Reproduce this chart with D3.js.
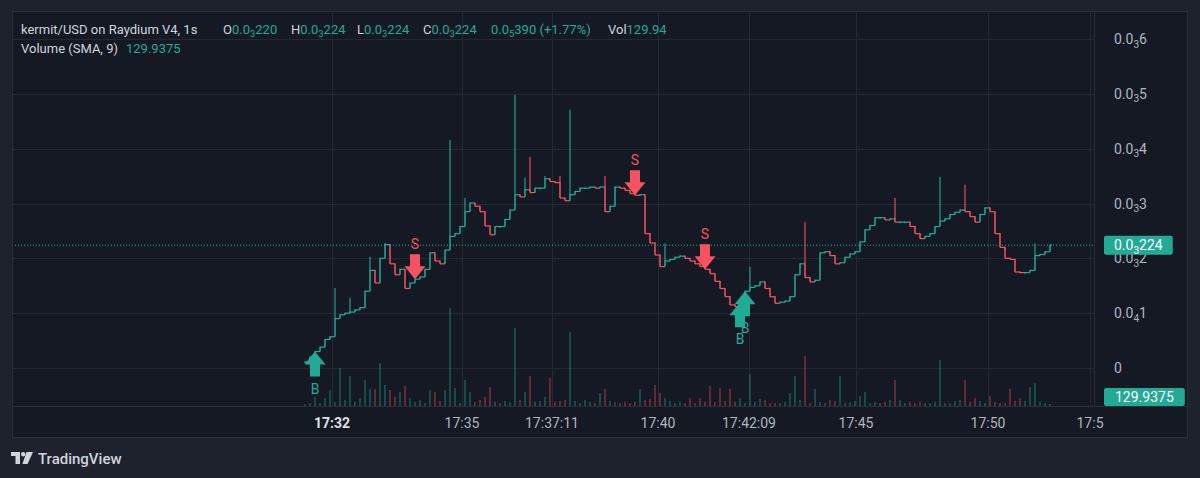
<!DOCTYPE html>
<html>
<head>
<meta charset="utf-8">
<script src="https://cdn.jsdelivr.net/npm/d3@7"></script>
<style>
  body { margin: 0; background: #1e222d; }
  text { font-family: Roboto, "Noto Sans", sans-serif; }
</style>
</head>
<body>
<script>
//settings
var settings = {
  width: 1200,
  height: 478,
  panelLeft: 12,
  panelTop: 11,
  panelRight: 1188,
  panelBottom: 438,
  axisX: 1094,
  timeY: 406,
  legendX: [223, 291, 357, 423, 491, 608],
  up: '#22ab94',
  down: '#f7525f',
  grid: '#242833',
  axisText: '#b2b5be',
  text: '#d1d4dc'
};

// close of each bar, in units of 0.0001 USD (1s bars, thinned out)
var closes = [
  0.11, 0.20, 0.30, 0.38, 0.52, 0.57, 0.90, 0.97, 1.00, 1.02,
  1.06, 1.10, 1.40, 1.78, 1.55, 2.00, 2.25, 1.90, 1.70, 1.80,
  1.45, 1.55, 1.62, 1.66, 1.80, 2.10, 1.95, 1.90, 2.15, 2.40,
  2.45, 2.58, 2.85, 3.01, 2.95, 2.85, 2.59, 2.43, 2.58, 2.58,
  2.71, 2.88, 3.16, 3.12, 3.25, 3.20, 3.28, 3.28, 3.45, 3.40,
  3.38, 3.10, 3.05, 3.16, 3.22, 3.28, 3.28, 3.30, 3.28, 3.30,
  2.85, 2.95, 3.30, 3.28, 3.24, 3.18, 3.15, 3.16, 2.45, 2.28,
  2.06, 1.85, 1.95, 1.98, 2.02, 2.04, 2.00, 1.95, 1.90, 1.85,
  1.80, 1.72, 1.58, 1.45, 1.30, 1.15, 1.12, 1.20, 1.40, 1.47,
  1.50, 1.57, 1.45, 1.30, 1.18, 1.20, 1.22, 1.30, 1.70, 1.90,
  1.65, 1.57, 1.60, 2.10, 2.12, 2.05, 1.90, 1.92, 2.02, 2.08,
  2.12, 2.30, 2.52, 2.60, 2.74, 2.74, 2.70, 2.72, 2.66, 2.66,
  2.66, 2.58, 2.45, 2.36, 2.40, 2.45, 2.58, 2.68, 2.72, 2.80,
  2.84, 2.88, 2.85, 2.76, 2.66, 2.80, 2.92, 2.85, 2.45, 2.20,
  2.00, 1.98, 1.75, 1.74, 1.74, 1.78, 2.05, 2.07, 2.12, 2.24
];

// bars with a long upper wick: [bar index, high]
var wickHighs = [
  [6, 1.46], [9, 1.28], [13, 2.03], [16, 2.28], [29, 4.16], [32, 3.10],
  [42, 4.98], [44, 3.47], [45, 3.85], [48, 3.50], [51, 3.50], [53, 4.71],
  [60, 3.50], [72, 2.27], [89, 1.85], [100, 2.66], [118, 3.10], [127, 3.49],
  [132, 3.34], [140, 2.15], [146, 2.27]
];

var volumes = [
  29, 43, 130, 43, 115, 230, 58, 547, 86, 432,
  58, 115, 374, 245, 245, 619, 302, 230, 130, 202,
  288, 115, 58, 86, 43, 230, 202, 72, 230, 1411,
  259, 43, 374, 202, 58, 86, 130, 274, 58, 43,
  72, 58, 1123, 86, 202, 432, 58, 72, 130, 403,
  58, 72, 86, 1066, 72, 43, 86, 58, 43, 187,
  245, 72, 58, 43, 58, 43, 58, 245, 86, 101,
  302, 187, 115, 72, 43, 58, 43, 115, 43, 115,
  58, 288, 58, 259, 72, 245, 58, 115, 43, 461,
  58, 101, 86, 43, 43, 43, 58, 187, 432, 86,
  720, 43, 245, 58, 43, 86, 72, 432, 43, 58,
  72, 144, 202, 43, 58, 43, 58, 86, 374, 86,
  43, 58, 43, 58, 43, 43, 58, 662, 43, 43,
  72, 86, 374, 58, 115, 72, 43, 144, 58, 43,
  43, 245, 72, 115, 72, 274, 331, 58, 43, 29
];

var priceTicks = [0, 1, 2, 3, 4, 5, 6];
var timeTickBars = [5.4, 31.4, 49.4, 70.6, 88.8, 110.2, 136.6, 157];
var timeTickLabels = ['17:32', '17:35', '17:37:11', '17:40', '17:42:09', '17:45', '17:50', '17:5'];

// trade markers: [bar index, side]
var markers = [[2, 'B'], [22, 'S'], [66, 'S'], [80, 'S'], [88, 'B'], [87, 'B']];

var legendKeys = ['O', 'H', 'L', 'C'];
var legendVals = [0.000220, 0.000224, 0.000224, 0.000224];
var lastPrice = 0.000224;
var priceChange = 0.0000039;
var changePct = 1.77;
var lastVol = 129.94;
var volSma = 129.9375;

//scales
var x = d3.scaleLinear().domain([0, closes.length - 1]).range([305, 1050]);
var y = d3.scaleLinear().domain([0, 6]).range([368, 39]);
var v = d3.scaleLinear().domain([0, 1440]).range([settings.timeY, 306]);

var svg = d3.select('body').append('svg')
  .attr('width', settings.width)
  .attr('height', settings.height);

// writes 0.0₃224 style numbers as tspans
function appendSub(text, value, keep, size) {
  if (value === 0) { text.append('tspan').text('0'); return; }
  var zeros = Math.floor(-Math.log10(value));
  var digits = String(Math.round(value * Math.pow(10, zeros + 3)));
  if (!keep) digits = digits.replace(/0+$/, '');
  text.append('tspan').text('0.0');
  text.append('tspan').attr('dy', size * 0.25).attr('font-size', size * 0.72).text(zeros);
  text.append('tspan').attr('dy', -size * 0.25).text(digits);
}

function drawFrame() {
  svg.append('rect').attr('width', settings.width).attr('height', settings.height).attr('fill', '#1e222d');
  svg.append('rect')
    .attr('x', settings.panelLeft + 0.5).attr('y', settings.panelTop + 0.5)
    .attr('width', settings.panelRight - settings.panelLeft - 1)
    .attr('height', settings.panelBottom - settings.panelTop - 1)
    .attr('fill', '#151924').attr('stroke', '#2a2e39');

  svg.append('clipPath').attr('id', 'plot')
    .append('rect')
    .attr('x', settings.panelLeft + 1).attr('y', settings.panelTop + 1)
    .attr('width', settings.axisX - settings.panelLeft - 1)
    .attr('height', settings.timeY - settings.panelTop - 1);

  var grid = svg.append('g').attr('clip-path', 'url(#plot)');
  grid.selectAll('.hg').data(priceTicks).enter().append('line')
    .attr('x1', settings.panelLeft).attr('x2', settings.axisX)
    .attr('y1', function(d) { return Math.round(y(d)) + 0.5; })
    .attr('y2', function(d) { return Math.round(y(d)) + 0.5; })
    .attr('stroke', settings.grid);
  grid.selectAll('.vg').data(timeTickBars).enter().append('line')
    .attr('x1', function(d) { return Math.round(x(d)) + 0.5; })
    .attr('x2', function(d) { return Math.round(x(d)) + 0.5; })
    .attr('y1', settings.panelTop).attr('y2', settings.timeY)
    .attr('stroke', settings.grid);
}

function drawBars() {
  var bars = closes.map(function(c, i) {
    var o = i ? closes[i - 1] : c;
    return { i: i, o: o, c: c, up: c >= o };
  });
  var highs = {};
  wickHighs.forEach(function(w) { highs[w[0]] = w[1]; });
  var color = function(d) { return d.up ? settings.up : settings.down; };

  var g = svg.append('g').attr('clip-path', 'url(#plot)');

  // volume
  g.selectAll('.vol').data(bars).enter().append('rect')
    .attr('x', function(d) { return x(d.i) - 0.75; })
    .attr('width', 1.5)
    .attr('y', function(d) { return v(volumes[d.i]); })
    .attr('height', function(d) { return settings.timeY - v(volumes[d.i]); })
    .attr('fill', color).attr('fill-opacity', 0.45);

  // wicks
  g.selectAll('.wick').data(bars.filter(function(d) { return highs[d.i] !== undefined; }))
    .enter().append('line')
    .attr('x1', function(d) { return x(d.i); }).attr('x2', function(d) { return x(d.i); })
    .attr('y1', function(d) { return y(highs[d.i]); })
    .attr('y2', function(d) { return y(Math.max(d.o, d.c)); })
    .attr('stroke', color).attr('stroke-width', 1.1);

  // flat run until next bar
  g.selectAll('.run').data(bars).enter().append('line')
    .attr('x1', function(d) { return x(d.i); })
    .attr('x2', function(d) { return d.i < bars.length - 1 ? x(d.i + 1) : x(d.i) + 2; })
    .attr('y1', function(d) { return y(d.c); }).attr('y2', function(d) { return y(d.c); })
    .attr('stroke', color).attr('stroke-width', 1.2);

  // bodies
  g.selectAll('.body').data(bars).enter().append('rect')
    .attr('x', function(d) { return x(d.i) - 0.75; })
    .attr('width', 1.5)
    .attr('y', function(d) { return y(Math.max(d.o, d.c)) - 0.5; })
    .attr('height', function(d) { return Math.max(1, Math.abs(y(d.o) - y(d.c))) + 0.5; })
    .attr('fill', color);

  // last price line
  g.append('line')
    .attr('x1', settings.panelLeft).attr('x2', settings.axisX)
    .attr('y1', y(lastPrice * 1e4)).attr('y2', y(lastPrice * 1e4))
    .attr('stroke', settings.up).attr('stroke-dasharray', '1,2');

  // markers
  var m = g.selectAll('.marker').data(markers).enter().append('g');
  m.append('path')
    .attr('d', function(d) {
      var cx = x(d[0]), t = y(closes[d[0]]), s = d[1] === 'B' ? 1 : -1;
      return 'M' + cx + ',' + t +
        'L' + (cx + 10.5) + ',' + (t + s * 13) + 'L' + (cx + 5) + ',' + (t + s * 13) +
        'L' + (cx + 5) + ',' + (t + s * 25) + 'L' + (cx - 5) + ',' + (t + s * 25) +
        'L' + (cx - 5) + ',' + (t + s * 13) + 'L' + (cx - 10.5) + ',' + (t + s * 13) + 'Z';
    })
    .attr('fill', function(d) { return d[1] === 'B' ? settings.up : settings.down; });
  m.append('text')
    .attr('x', function(d) { return x(d[0]); })
    .attr('y', function(d) { return y(closes[d[0]]) + (d[1] === 'B' ? 37 : -35); })
    .attr('text-anchor', 'middle').attr('dominant-baseline', 'central')
    .attr('font-size', 14)
    .attr('fill', function(d) { return d[1] === 'B' ? settings.up : settings.down; })
    .text(function(d) { return d[1]; });
}

function drawAxes() {
  svg.append('line')
    .attr('x1', settings.axisX + 0.5).attr('x2', settings.axisX + 0.5)
    .attr('y1', settings.panelTop).attr('y2', settings.timeY)
    .attr('stroke', '#2a2e39');
  svg.append('line')
    .attr('x1', settings.panelLeft).attr('x2', settings.panelRight)
    .attr('y1', settings.timeY + 0.5).attr('y2', settings.timeY + 0.5)
    .attr('stroke', '#2a2e39');

  svg.selectAll('.ptick').data(priceTicks).enter().append('text')
    .attr('x', 1114).attr('y', function(d) { return y(d) + 5; })
    .attr('font-size', 14).attr('fill', settings.axisText)
    .each(function(d) { appendSub(d3.select(this), d / 1e4, false, 14); });

  svg.selectAll('.ttick').data(timeTickBars).enter().append('text')
    .attr('x', function(d) { return x(d); }).attr('y', 428)
    .attr('text-anchor', 'middle').attr('font-size', 14)
    .attr('font-weight', function(d, i) { return i === 0 ? 'bold' : 'normal'; })
    .attr('fill', function(d, i) { return i === 0 ? '#e0e3eb' : settings.axisText; })
    .text(function(d, i) { return timeTickLabels[i]; });

  // price tag
  var py = y(lastPrice * 1e4);
  var pBox = svg.append('rect').attr('fill', settings.up).attr('rx', 2);
  var pText = svg.append('text').attr('x', 1114).attr('y', py + 5)
    .attr('font-size', 14).attr('fill', '#ffffff');
  appendSub(pText, lastPrice, true, 14);
  var pw = pText.node().getComputedTextLength();
  pBox.attr('x', 1104).attr('y', py - 9.5).attr('width', pw + 20).attr('height', 19);

  // volume tag
  var vy = v(volSma);
  var vBox = svg.append('rect').attr('fill', settings.up).attr('rx', 2);
  var vText = svg.append('text').attr('x', 1115).attr('y', vy + 5)
    .attr('font-size', 14).attr('fill', '#ffffff').text(volSma);
  var vw = vText.node().getComputedTextLength();
  vBox.attr('x', 1104).attr('y', vy - 9).attr('width', vw + 22).attr('height', 18);
}

function legendText(xPos, yPos) {
  return svg.append('text').attr('x', xPos).attr('y', yPos)
    .attr('font-size', 13).attr('fill', settings.up);
}

function drawLegend() {
  legendText(21, 34).attr('fill', settings.text).text('kermit/USD on Raydium V4, 1s');
  legendKeys.forEach(function(k, i) {
    var t = legendText(settings.legendX[i], 34);
    t.append('tspan').attr('fill', settings.text).attr('dx', 0).text(k);
    appendSub(t, legendVals[i], true, 13);
  });
  var ch = legendText(settings.legendX[4], 34);
  appendSub(ch, priceChange, true, 13);
  ch.append('tspan').text(' (+' + changePct + '%)');
  var vt = legendText(settings.legendX[5], 34);
  vt.append('tspan').attr('fill', settings.text).text('Vol');
  vt.append('tspan').text(lastVol);

  legendText(21, 53).attr('fill', settings.text).text('Volume (SMA, 9)');
  legendText(126, 53).text(volSma);
}

function drawLogo() {
  var g = svg.append('g').attr('fill', settings.text);
  g.append('path').attr('d', 'M11,452H20V464H15.5V456H11Z');
  g.append('circle').attr('cx', 23.2).attr('cy', 454.2).attr('r', 2.2);
  g.append('path').attr('d', 'M26.5,452H33L27.6,464H22.4Z');
  g.append('text').attr('x', 38).attr('y', 464).attr('font-size', 15).attr('font-weight', 500)
    .text('TradingView');
}

//INIT:
drawFrame();
drawBars();
drawAxes();
drawLegend();
drawLogo();
</script>
</body>
</html>
